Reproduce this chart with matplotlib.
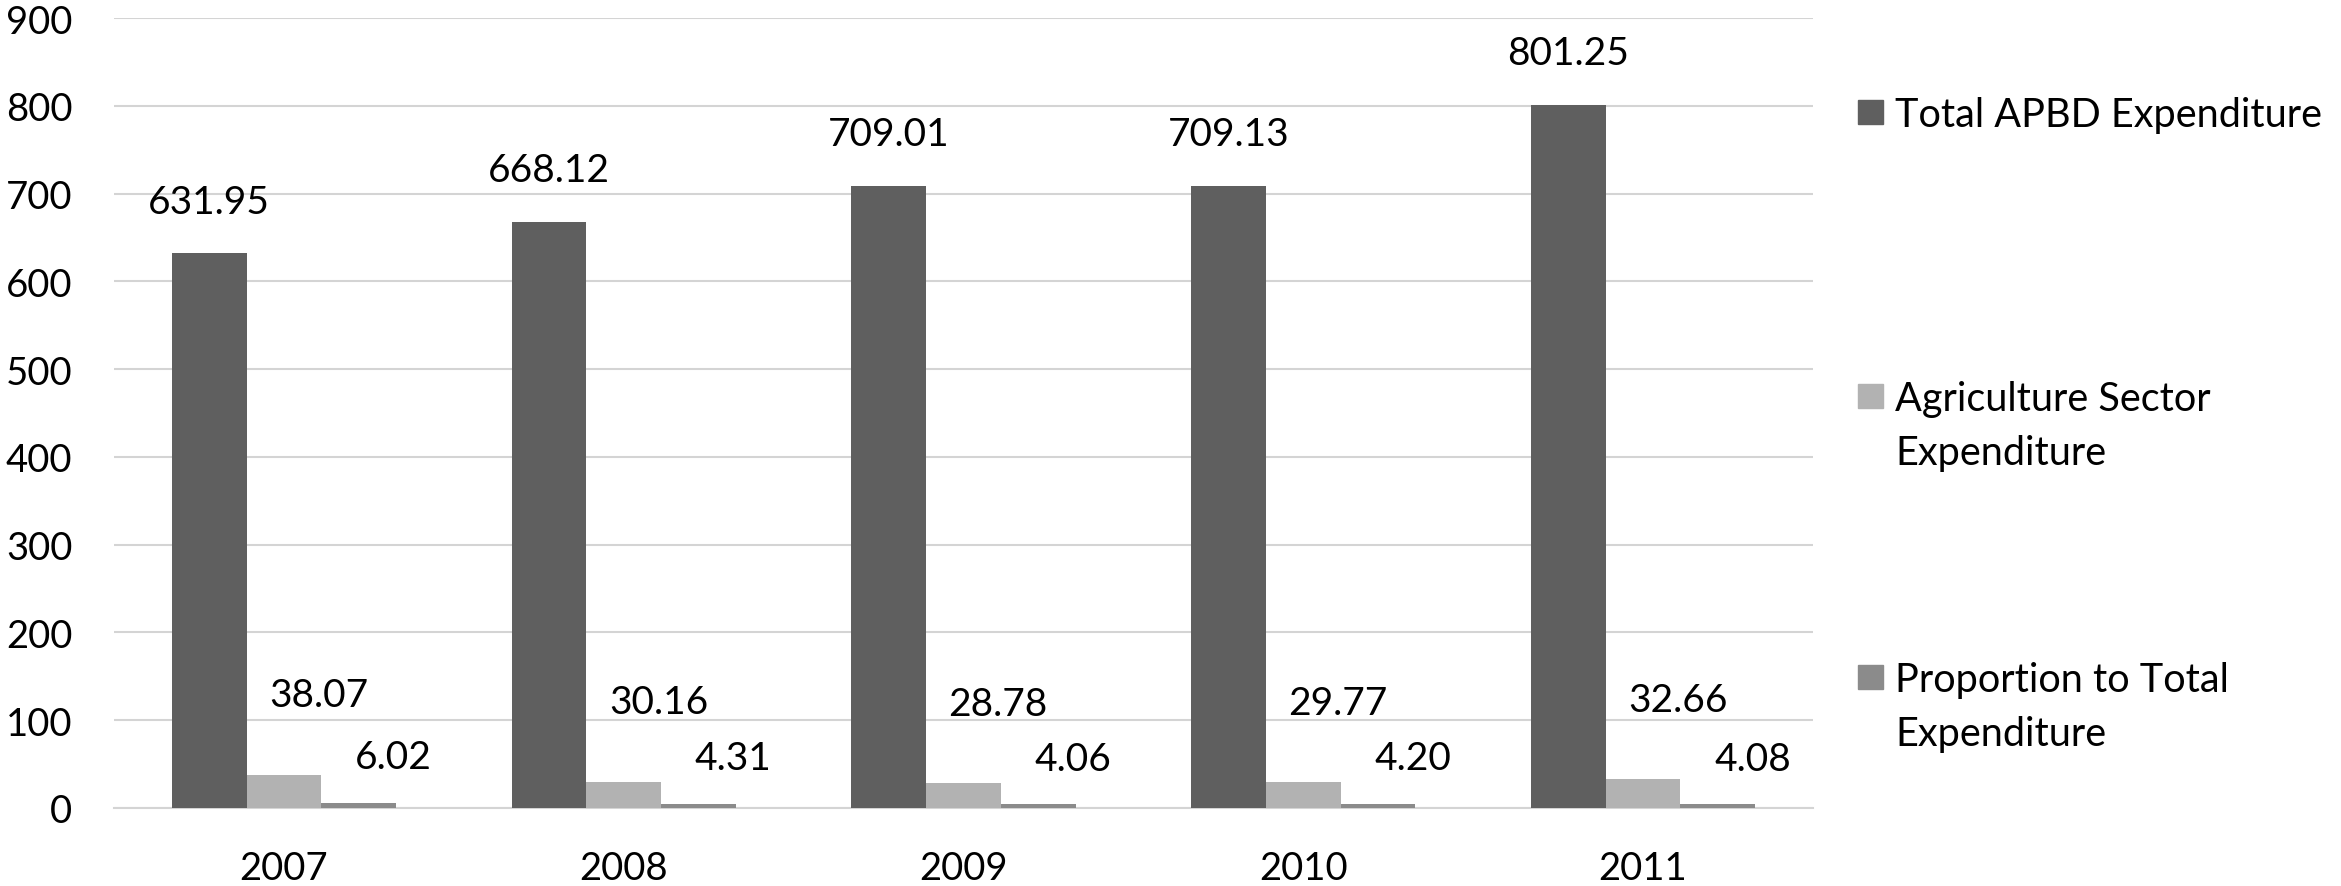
import matplotlib.pyplot as plt
import numpy as np
from matplotlib.patches import Rectangle

years = ['2007', '2008', '2009', '2010', '2011']
total_apbd = [631.95, 668.12, 709.01, 709.13, 801.25]
agriculture = [38.07, 30.16, 28.78, 29.77, 32.66]
proportion = [6.02, 4.31, 4.06, 4.20, 4.08]

series_names = ['Total APBD Expenditure',
                'Agriculture Sector\nExpenditure',
                'Proportion to Total\nExpenditure']
colors = ['#5f5f5f', '#b2b2b2', '#8b8b8b']

plt.rcParams['font.family'] = ['Lato', 'DejaVu Sans']

fig = plt.figure(figsize=(23.41, 8.87), dpi=100)
ax = fig.add_axes([114 / 2341, 1 - 809 / 887, (1813 - 114) / 2341, (809 - 19) / 887])

x = np.arange(len(years))
width = 0.22
# label offsets in points (dx, dy) per series, as placed in the original
label_offsets = [(0, 37), (25, 57), (25, 33)]

for i, (vals, color) in enumerate(zip([total_apbd, agriculture, proportion], colors)):
    pos = x + (i - 1) * width
    ax.bar(pos, vals, width, color=color, zorder=3)
    dx, dy = label_offsets[i]
    for px, v in zip(pos, vals):
        ax.annotate(f'{v:.2f}', (px, v), xytext=(dx, dy), textcoords='offset points',
                    ha='center', va='center', fontsize=28, color='black')

ax.set_xlim(-0.5, len(years) - 0.5)
ax.set_ylim(0, 900)
ax.set_yticks(range(0, 901, 100))
ax.set_xticks(x)
ax.set_xticklabels(years)
ax.tick_params(axis='both', length=0, labelsize=27.5, colors='black')
ax.tick_params(axis='y', pad=30)
ax.tick_params(axis='x', pad=30)
ax.grid(axis='y', color='#d4d4d4', linewidth=1.5, zorder=0)
for s in ['top', 'right', 'left']:
    ax.spines[s].set_visible(False)
ax.spines['bottom'].set_color('#d4d4d4')
ax.spines['bottom'].set_linewidth(1.5)

# legend drawn beside the plot; rows give the first-line baseline in pixels
legend_rows = [127, 411, 692]
line_step = 54
for name, color, base in zip(series_names, colors, legend_rows):
    fig.patches.append(Rectangle((1858 / 2341, 1 - (base - 2) / 887), 25 / 2341, 24 / 887,
                                 transform=fig.transFigure, color=color))
    last_base = base + line_step * name.count('\n')
    fig.text(1895 / 2341, 1 - last_base / 887, name, fontsize=28.5, va='baseline',
             ha='left', linespacing=1.58)

fig.savefig('out.png', dpi=100)
